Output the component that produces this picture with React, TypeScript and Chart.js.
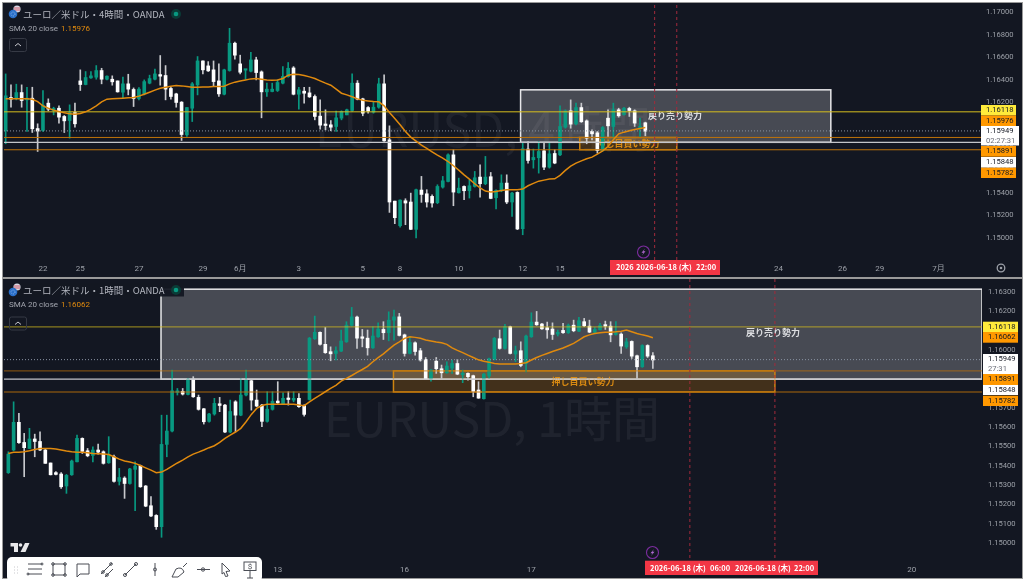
import React, { useEffect, useRef } from "react";
import { Chart, registerables } from "chart.js";

Chart.register(...registerables);

// ---------- 4 hour pane ----------
const opens4h = [1.15950,1.16245,1.16236,1.16289,1.16224,1.16239,1.15970,1.15953,1.16195,1.16130,1.16150,1.16077,1.16041,1.16112,1.16392,1.16360,1.16419,1.16425,1.16484,1.16407,1.16407,1.16392,1.16292,1.16366,1.16316,1.16236,1.16277,1.16372,1.16407,1.16448,1.16440,1.16325,1.16277,1.16204,1.15914,1.16150,1.16357,1.16569,1.16525,1.16490,1.16392,1.16274,1.16484,1.16726,1.16543,1.16487,1.16478,1.16578,1.16472,1.16295,1.16298,1.16307,1.16372,1.16431,1.16507,1.16274,1.16301,1.16286,1.16254,1.16080,1.16000,1.16003,1.15988,1.16062,1.16091,1.16130,1.16372,1.16233,1.16156,1.16115,1.16159,1.16366,1.15870,1.15327,1.15109,1.15330,1.15319,1.15077,1.15425,1.15392,1.15369,1.15313,1.15451,1.15501,1.15737,1.15401,1.15457,1.15419,1.15457,1.15540,1.15481,1.15543,1.15357,1.15419,1.15487,1.15319,1.15404,1.15083,1.15788,1.15693,1.15711,1.15773,1.15628,1.15749,1.15737,1.15982,1.16127,1.16012,1.16156,1.16038,1.15944,1.15932,1.15776,1.16062,1.15988,1.16136,1.16094,1.16148,1.16127,1.15976,1.16021];
const highs4h = [1.16454,1.16357,1.16363,1.16357,1.16336,1.16336,1.16012,1.16307,1.16233,1.16159,1.16171,1.16086,1.16180,1.16195,1.16490,1.16475,1.16475,1.16528,1.16504,1.16437,1.16437,1.16392,1.16425,1.16451,1.16330,1.16333,1.16401,1.16443,1.16496,1.16617,1.16528,1.16336,1.16283,1.16209,1.16156,1.16378,1.16608,1.16569,1.16563,1.16569,1.16543,1.16496,1.16858,1.16735,1.16620,1.16490,1.16646,1.16602,1.16481,1.16372,1.16372,1.16401,1.16519,1.16555,1.16519,1.16336,1.16336,1.16336,1.16268,1.16224,1.16136,1.16041,1.16124,1.16127,1.16142,1.16454,1.16395,1.16239,1.16165,1.16209,1.16416,1.16445,1.15994,1.15327,1.15339,1.15348,1.15398,1.15434,1.15546,1.15428,1.15383,1.15472,1.15546,1.15746,1.15782,1.15531,1.15463,1.15516,1.15590,1.15649,1.15723,1.15581,1.15428,1.15560,1.15560,1.15404,1.15410,1.15841,1.15855,1.15788,1.15855,1.15841,1.15841,1.15782,1.16171,1.16136,1.16224,1.16195,1.16195,1.16047,1.15959,1.15944,1.15988,1.16136,1.16195,1.16150,1.16159,1.16159,1.16136,1.16062,1.16027];
const lows4h = [1.15835,1.16159,1.16224,1.16159,1.15944,1.15935,1.15767,1.15944,1.16127,1.16091,1.16018,1.15935,1.15885,1.15982,1.16307,1.16357,1.16413,1.16407,1.16366,1.16401,1.16354,1.16292,1.16242,1.16268,1.16165,1.16224,1.16268,1.16366,1.16401,1.16354,1.16224,1.16230,1.16159,1.15864,1.15900,1.16032,1.16268,1.16454,1.16475,1.16348,1.16254,1.16268,1.16478,1.16584,1.16454,1.16407,1.16472,1.16401,1.16065,1.16254,1.16295,1.16298,1.16366,1.16425,1.16268,1.16142,1.16195,1.16245,1.16047,1.15965,1.15959,1.15950,1.15944,1.16047,1.16091,1.16121,1.16224,1.16083,1.16106,1.16106,1.16150,1.15855,1.15227,1.15127,1.15097,1.15118,1.15074,1.15000,1.15316,1.15274,1.15274,1.15304,1.15442,1.15496,1.15286,1.15398,1.15339,1.15354,1.15451,1.15363,1.15472,1.15348,1.15257,1.15410,1.15304,1.15192,1.15074,1.15029,1.15664,1.15619,1.15575,1.15605,1.15619,1.15658,1.15729,1.15973,1.15973,1.16003,1.16024,1.15835,1.15870,1.15752,1.15770,1.15900,1.15885,1.16071,1.16088,1.16077,1.15988,1.15900,1.15906];
const closes4h = [1.16260,1.16230,1.16289,1.16218,1.16239,1.15968,1.15947,1.16177,1.16142,1.16148,1.16071,1.16038,1.16112,1.16012,1.16360,1.16422,1.16437,1.16484,1.16407,1.16434,1.16384,1.16295,1.16366,1.16319,1.16236,1.16319,1.16386,1.16413,1.16454,1.16434,1.16319,1.16254,1.16201,1.15917,1.16156,1.16366,1.16569,1.16490,1.16481,1.16386,1.16277,1.16490,1.16726,1.16620,1.16469,1.16490,1.16578,1.16466,1.16295,1.16319,1.16319,1.16378,1.16431,1.16504,1.16274,1.16313,1.16283,1.16251,1.16077,1.16000,1.15997,1.15982,1.16065,1.16121,1.16136,1.16372,1.16230,1.16106,1.16124,1.16159,1.16366,1.15861,1.15319,1.15180,1.15336,1.15310,1.15077,1.15428,1.15386,1.15319,1.15310,1.15457,1.15507,1.15737,1.15407,1.15442,1.15419,1.15463,1.15534,1.15481,1.15540,1.15351,1.15422,1.15487,1.15319,1.15398,1.15080,1.15791,1.15687,1.15714,1.15767,1.15628,1.15746,1.15664,1.15988,1.16127,1.16009,1.16156,1.16030,1.15885,1.15923,1.15776,1.15979,1.15994,1.16136,1.16083,1.16150,1.16130,1.16018,1.15982,1.15947];
const sma4h = [1.16233,1.16233,1.16233,1.16233,1.16233,1.16230,1.16209,1.16171,1.16150,1.16133,1.16121,1.16109,1.16100,1.16097,1.16103,1.16118,1.16142,1.16171,1.16207,1.16230,1.16233,1.16236,1.16239,1.16242,1.16245,1.16257,1.16274,1.16292,1.16310,1.16327,1.16336,1.16345,1.16351,1.16348,1.16342,1.16336,1.16336,1.16339,1.16339,1.16342,1.16342,1.16345,1.16366,1.16381,1.16392,1.16401,1.16410,1.16413,1.16407,1.16401,1.16398,1.16401,1.16413,1.16443,1.16451,1.16448,1.16440,1.16428,1.16413,1.16392,1.16372,1.16354,1.16319,1.16283,1.16268,1.16251,1.16233,1.16221,1.16215,1.16209,1.16207,1.16171,1.16112,1.16059,1.16003,1.15944,1.15894,1.15858,1.15823,1.15794,1.15764,1.15735,1.15708,1.15678,1.15640,1.15602,1.15560,1.15522,1.15481,1.15445,1.15416,1.15407,1.15413,1.15422,1.15428,1.15428,1.15428,1.15434,1.15463,1.15484,1.15504,1.15513,1.15522,1.15525,1.15555,1.15599,1.15637,1.15664,1.15684,1.15702,1.15717,1.15743,1.15773,1.15811,1.15870,1.15923,1.15938,1.15950,1.15962,1.15971,1.15979];
const timeIdx4h = [7,14,25,37,44,55,67,74,85,97,104,145,157,164,175];
const timeLabels4h = ["22","25","27","29","6月","3","5","8","10","12","15","24","26","29","7月"];
const priceTicks4h = [1.15,1.152,1.154,1.156,1.158,1.16,1.162,1.164,1.166,1.168,1.17];
const eventIdx4h = [121.75,125.9];

// ---------- 1 hour pane ----------
const opens1h = [1.15365,1.15482,1.15625,1.15521,1.15490,1.15539,1.15526,1.15482,1.15415,1.15365,1.15358,1.15296,1.15354,1.15421,1.15542,1.15478,1.15454,1.15482,1.15473,1.15416,1.15447,1.15320,1.15337,1.15309,1.15382,1.15401,1.15296,1.15194,1.15144,1.15086,1.15511,1.15580,1.15780,1.15785,1.15769,1.15848,1.15754,1.15695,1.15630,1.15668,1.15721,1.15714,1.15575,1.15731,1.15662,1.15766,1.15840,1.15740,1.15714,1.15630,1.15692,1.15735,1.15719,1.15750,1.15740,1.15749,1.15712,1.15743,1.16057,1.16090,1.16028,1.15990,1.15981,1.15993,1.16041,1.16126,1.16169,1.16067,1.16060,1.16010,1.16067,1.16105,1.16088,1.16153,1.16170,1.16077,1.15981,1.16036,1.15995,1.15950,1.15847,1.15941,1.15902,1.15881,1.15905,1.15929,1.15871,1.15878,1.15866,1.15792,1.15747,1.15864,1.15950,1.16057,1.16007,1.16119,1.15978,1.15995,1.15929,1.16067,1.16143,1.16133,1.16114,1.16107,1.16081,1.16100,1.16088,1.16127,1.16096,1.16145,1.16122,1.16090,1.16103,1.16127,1.16122,1.16079,1.16081,1.16015,1.16043,1.15969,1.15912,1.16022,1.15969];
const highs1h = [1.15473,1.15731,1.15671,1.15568,1.15594,1.15564,1.15576,1.15490,1.15415,1.15370,1.15365,1.15356,1.15430,1.15559,1.15545,1.15490,1.15499,1.15513,1.15478,1.15551,1.15456,1.15387,1.15344,1.15387,1.15421,1.15404,1.15299,1.15241,1.15148,1.15662,1.15662,1.15895,1.15800,1.15800,1.15852,1.15861,1.15766,1.15697,1.15671,1.15749,1.15754,1.15718,1.15740,1.15737,1.15852,1.15895,1.15843,1.15792,1.15718,1.15783,1.15783,1.15835,1.15778,1.15783,1.15783,1.15774,1.15716,1.16064,1.16174,1.16093,1.16115,1.16015,1.16015,1.16102,1.16145,1.16219,1.16174,1.16105,1.16102,1.16119,1.16139,1.16145,1.16196,1.16205,1.16188,1.16081,1.16067,1.16041,1.16007,1.15960,1.15898,1.15960,1.15921,1.15938,1.15947,1.15950,1.15895,1.15881,1.15869,1.15835,1.15878,1.15957,1.16064,1.16102,1.16131,1.16122,1.16019,1.16041,1.16076,1.16191,1.16198,1.16136,1.16143,1.16139,1.16102,1.16136,1.16133,1.16153,1.16167,1.16162,1.16153,1.16115,1.16136,1.16148,1.16145,1.16145,1.16088,1.16059,1.16046,1.15972,1.16026,1.16026,1.15985];
const lows1h = [1.15361,1.15478,1.15516,1.15344,1.15490,1.15447,1.15478,1.15413,1.15353,1.15353,1.15284,1.15258,1.15351,1.15420,1.15464,1.15447,1.15421,1.15461,1.15409,1.15413,1.15316,1.15301,1.15232,1.15306,1.15168,1.15289,1.15189,1.15137,1.15072,1.15031,1.15447,1.15576,1.15766,1.15766,1.15766,1.15754,1.15688,1.15616,1.15626,1.15662,1.15680,1.15571,1.15571,1.15576,1.15659,1.15762,1.15688,1.15706,1.15602,1.15626,1.15688,1.15723,1.15719,1.15714,1.15731,1.15702,1.15657,1.15740,1.16053,1.16024,1.15981,1.15943,1.15947,1.15990,1.16038,1.16122,1.16007,1.16015,1.15972,1.16007,1.16064,1.16053,1.16046,1.16050,1.16071,1.15967,1.15978,1.15972,1.15941,1.15847,1.15838,1.15878,1.15852,1.15878,1.15878,1.15871,1.15830,1.15843,1.15757,1.15749,1.15745,1.15852,1.15947,1.16003,1.16003,1.15978,1.15938,1.15912,1.15886,1.16064,1.16126,1.16105,1.16059,1.16053,1.16071,1.16084,1.16084,1.16093,1.16093,1.16119,1.16088,1.16084,1.16102,1.16105,1.16041,1.16076,1.15981,1.16007,1.15955,1.15852,1.15909,1.15960,1.15904];
const closes1h = [1.15461,1.15625,1.15520,1.15494,1.15539,1.15526,1.15482,1.15413,1.15354,1.15356,1.15292,1.15351,1.15425,1.15542,1.15475,1.15452,1.15482,1.15471,1.15413,1.15456,1.15320,1.15340,1.15309,1.15384,1.15399,1.15292,1.15192,1.15141,1.15086,1.15511,1.15580,1.15788,1.15783,1.15771,1.15848,1.15757,1.15692,1.15628,1.15668,1.15723,1.15712,1.15575,1.15681,1.15662,1.15766,1.15843,1.15740,1.15709,1.15630,1.15693,1.15733,1.15726,1.15749,1.15743,1.15749,1.15706,1.15666,1.16060,1.16090,1.16028,1.15985,1.15979,1.15995,1.16045,1.16127,1.16170,1.16060,1.16059,1.16010,1.16071,1.16107,1.16088,1.16153,1.16170,1.16074,1.15981,1.16038,1.15991,1.15947,1.15850,1.15895,1.15902,1.15881,1.15916,1.15929,1.15874,1.15874,1.15861,1.15785,1.15750,1.15874,1.15954,1.16059,1.16007,1.16119,1.15981,1.15995,1.15919,1.16071,1.16143,1.16129,1.16108,1.16103,1.16079,1.16090,1.16088,1.16127,1.16098,1.16150,1.16124,1.16091,1.16105,1.16126,1.16122,1.16077,1.16084,1.16019,1.16041,1.15967,1.15912,1.16022,1.15967,1.15947];
const sma1h = [1.15464,1.15470,1.15471,1.15473,1.15478,1.15485,1.15490,1.15490,1.15490,1.15487,1.15482,1.15477,1.15473,1.15471,1.15470,1.15468,1.15464,1.15463,1.15461,1.15459,1.15447,1.15435,1.15425,1.15420,1.15413,1.15402,1.15390,1.15378,1.15365,1.15368,1.15382,1.15399,1.15415,1.15430,1.15447,1.15461,1.15471,1.15482,1.15494,1.15504,1.15521,1.15542,1.15559,1.15575,1.15594,1.15628,1.15666,1.15697,1.15712,1.15718,1.15719,1.15719,1.15719,1.15719,1.15718,1.15714,1.15711,1.15731,1.15749,1.15766,1.15783,1.15800,1.15816,1.15838,1.15852,1.15867,1.15883,1.15898,1.15914,1.15938,1.15959,1.15979,1.16002,1.16024,1.16041,1.16059,1.16067,1.16064,1.16059,1.16050,1.16045,1.16040,1.16036,1.16028,1.16010,1.15997,1.15985,1.15972,1.15960,1.15948,1.15941,1.15936,1.15929,1.15926,1.15926,1.15926,1.15926,1.15929,1.15933,1.15947,1.15960,1.15971,1.15981,1.15991,1.16000,1.16009,1.16021,1.16033,1.16050,1.16067,1.16077,1.16084,1.16088,1.16091,1.16091,1.16093,1.16096,1.16102,1.16093,1.16084,1.16077,1.16071,1.16062];
const timeIdx1h = [51,75,99,171];
const timeLabels1h = ["13","16","17","20"];
const priceTicks1h = [1.15,1.151,1.152,1.153,1.154,1.155,1.156,1.157,1.158,1.159,1.16,1.161,1.162,1.163];
const eventIdx1h = [129,145.1];

// ---------- shared levels ----------
const levelYellow = 1.16118;
const levelOrangeUpper = 1.15891;
const levelWhite = 1.15848;
const levelOrangeLower = 1.15782;
const lastPrice = 1.15949;
const sellZoneTop = 1.16313;
const sellTextLevel = 1.16088;
const sma4hLast = 1.15976;
const sma1hLast = 1.16062;

const BG = "#131722";
const GREEN = "#089981";
const WHITE = "#ffffff";
const AXIS = "#9ca0a8";
const ORANGE = "#ff9800";
const YELLOW = "#ffeb3b";
const UI_FONT = 'Roboto, "Noto Sans CJK JP", sans-serif';
const JP_FONT = '"Noto Sans CJK JP", Roboto, sans-serif';

type Tag = { top: number; h: number; w: number; bg: string; lines: string[] };
type PaneCfg = {
  title: string; smaLast: number; watermark: string; wmCx: number; wmCy: number; wmSize: number;
  o: number[]; h: number[]; l: number[]; c: number[]; sma: number[];
  timeIdx: number[]; timeLabels: string[]; priceTicks: number[]; eventIdx: number[];
  canvasTop: number; canvasH: number; areaTop: number; areaBottomPad: number;
  xMin: number; xMax: number; yMin: number; yMax: number;
  sellBox: [number, number]; buyBox: [number, number]; sellTextX: number; buyTextX: number;
  lineAlpha: number; lineW: number; titleY: number; smaY: number; titleBg: boolean;
  tagLeft: number; tags: Tag[]; red: { x0: number; x1: number; y0: number; y1: number; items: [string, number][] };
  tickPad: number; yTickPad: number; barW: number;
};

const drawText = (ctx: CanvasRenderingContext2D, s: string, x: number, y: number, color: string, font: string, align: CanvasTextAlign = "left") => {
  ctx.fillStyle = color; ctx.font = font; ctx.textAlign = align; ctx.textBaseline = "middle"; ctx.fillText(s, x, y);
};

const makePlugin = (cfg: PaneCfg) => ({
  id: "paneOverlay",
  beforeDatasetsDraw(chart: any) {
    const { ctx, scales: { x, y }, chartArea: a } = chart;
    ctx.save();
    ctx.beginPath(); ctx.rect(a.left, a.top, a.right - a.left, a.bottom - a.top); ctx.clip();
    drawText(ctx, cfg.watermark, cfg.wmCx, cfg.wmCy, "rgba(255,255,255,0.055)", `${cfg.wmSize}px ${JP_FONT}`, "center");
    const sx0 = x.getPixelForValue(cfg.sellBox[0]); const sx1 = x.getPixelForValue(cfg.sellBox[1]);
    const sy0 = y.getPixelForValue(sellZoneTop); const sy1 = y.getPixelForValue(levelWhite);
    ctx.fillStyle = "rgba(255,255,255,0.225)"; ctx.fillRect(sx0, sy0, sx1 - sx0, sy1 - sy0);
    ctx.strokeStyle = "#e8e8ea"; ctx.lineWidth = 1.5; ctx.strokeRect(sx0, sy0, sx1 - sx0, sy1 - sy0);
    drawText(ctx, "戻り売り勢力", cfg.sellTextX, y.getPixelForValue(sellTextLevel), "#dcdde0", `bold 9px ${JP_FONT}`, "center");
    const bx0 = x.getPixelForValue(cfg.buyBox[0]); const bx1 = x.getPixelForValue(cfg.buyBox[1]);
    const by0 = y.getPixelForValue(levelOrangeUpper); const by1 = y.getPixelForValue(levelOrangeLower);
    ctx.fillStyle = "rgba(255,152,0,0.2)"; ctx.fillRect(bx0, by0, bx1 - bx0, by1 - by0);
    ctx.strokeStyle = "#cf8410"; ctx.lineWidth = 1.5; ctx.strokeRect(bx0, by0, bx1 - bx0, by1 - by0);
    drawText(ctx, "押し目買い勢力", cfg.buyTextX, (by0 + by1) / 2, "#d98a12", `bold 9px ${JP_FONT}`, "center");
    ctx.restore();
  },
  afterDraw(chart: any) {
    const { ctx } = chart;
    ctx.save();
    if (cfg.titleBg) { ctx.fillStyle = "rgba(19,23,34,0.95)"; ctx.fillRect(5, cfg.titleY - 7, 179, 13); }
    drawText(ctx, cfg.title, 23, cfg.titleY, "#b2b5be", `9.5px ${JP_FONT}`);
    drawText(ctx, "SMA 20 close", 9, cfg.smaY, "#a3a6af", `8px ${UI_FONT}`);
    drawText(ctx, cfg.smaLast.toFixed(5), 61, cfg.smaY, "#e08a0e", `8px ${UI_FONT}`);
    for (const t of cfg.tags) {
      ctx.fillStyle = t.bg; ctx.fillRect(cfg.tagLeft, t.top, t.w, t.h);
      t.lines.forEach((s, i) => {
        const ly = t.top + (t.h / t.lines.length) * (i + 0.5);
        drawText(ctx, s, cfg.tagLeft + 5, ly, i === 0 ? BG : "#6a6d78", `7.6px ${UI_FONT}`);
      });
    }
    const r = cfg.red;
    ctx.fillStyle = "#f23645"; ctx.fillRect(r.x0, r.y0, r.x1 - r.x0, r.y1 - r.y0);
    r.items.forEach(([s, px]) => drawText(ctx, s, px, (r.y0 + r.y1) / 2, "#ffffff", `bold 7.5px ${JP_FONT}`));
    ctx.restore();
  },
});

function Pane({ cfg }: { cfg: PaneCfg }) {
  const ref = useRef<HTMLCanvasElement | null>(null);
  useEffect(() => {
    if (!ref.current) return;
    const n = cfg.o.length;
    const idx = Array.from({ length: n }, (_, i) => i);
    const colors = idx.map((i) => (cfg.c[i] >= cfg.o[i] ? GREEN : WHITE));
    const wickColors = idx.map((i) => (cfg.c[i] >= cfg.o[i] ? GREEN : "#c8c9cd"));
    const hline = (v: number, color: string, w: number, order: number, dash: number[] = []) => ({
      type: "line", data: [{ x: cfg.xMin, y: v }, { x: cfg.xMax, y: v }], borderColor: color, borderWidth: w,
      borderDash: dash, pointRadius: 0, order,
    });
    const vline = (v: number) => ({
      type: "line", data: [{ x: v, y: cfg.yMin }, { x: v, y: cfg.yMax }], borderColor: "#a32a3c", borderWidth: 1,
      borderDash: [3, 3], pointRadius: 0, order: 1,
    });
    const a = cfg.lineAlpha;
    const chart = new Chart(ref.current, {
      type: "bar",
      data: {
        datasets: [
          { label: "wick", data: idx.map((i) => ({ x: i, y: [cfg.l[i], cfg.h[i]] })), backgroundColor: wickColors, barThickness: 1, grouped: false, order: 6 },
          { label: "body", data: idx.map((i) => ({ x: i, y: [Math.min(cfg.o[i], cfg.c[i]), Math.max(cfg.o[i], cfg.c[i])] })), backgroundColor: colors, barThickness: cfg.barW, minBarLength: 1.5, grouped: false, order: 5 },
          hline(lastPrice, "#8a93a3", 1, 4, [1, 2]),
          hline(levelYellow, `rgba(214,190,30,${a})`, cfg.lineW, 3),
          hline(levelOrangeUpper, `rgba(190,115,10,${a})`, cfg.lineW, 3),
          hline(levelOrangeLower, `rgba(190,115,10,${a})`, cfg.lineW, 3),
          hline(levelWhite, "#c4c5ca", 1.2, 3),
          { type: "line", label: "SMA 20", data: idx.map((i) => ({ x: i, y: cfg.sma[i] })), borderColor: "#e08a0e", borderWidth: 1.5, pointRadius: 0, tension: 0, order: 2 },
          ...cfg.eventIdx.map(vline),
        ] as any,
      },
      options: {
        animation: false, responsive: false, events: [],
        layout: { padding: { left: 4, top: cfg.areaTop, right: 0, bottom: 0 } },
        plugins: { legend: { display: false }, tooltip: { enabled: false } },
        scales: {
          x: {
            type: "linear", min: cfg.xMin, max: cfg.xMax, offset: false,
            grid: { display: false, drawTicks: false, tickLength: 0 }, border: { display: false },
            afterBuildTicks: (s: any) => { s.ticks = cfg.timeIdx.map((v) => ({ value: v })); },
            afterFit: (s: any) => { s.height = cfg.areaBottomPad; s.paddingLeft = 0; s.paddingRight = 0; },
            ticks: {
              autoSkip: false, maxRotation: 0, minRotation: 0, padding: cfg.tickPad, color: AXIS, font: { size: 8, family: UI_FONT },
              callback: (v: any) => { const k = cfg.timeIdx.indexOf(v); return k >= 0 ? cfg.timeLabels[k] : ""; },
            },
          },
          y: {
            type: "linear", position: "right", min: cfg.yMin, max: cfg.yMax,
            grid: { display: false, drawTicks: false, tickLength: 0 }, border: { display: false },
            afterBuildTicks: (s: any) => { s.ticks = cfg.priceTicks.map((v) => ({ value: v })); },
            afterFit: (s: any) => { s.width = 42; s.paddingTop = 0; s.paddingBottom = 0; },
            ticks: {
              padding: cfg.yTickPad, color: AXIS, font: { size: 7.6, family: UI_FONT },
              callback: (v: any) => Number(v).toFixed(5),
            },
          },
        },
      } as any,
      plugins: [makePlugin(cfg)] as any,
    });
    return () => chart.destroy();
  }, [cfg]);
  return (
    <canvas ref={ref} width={1024} height={cfg.canvasH}
      style={{ position: "absolute", left: 0, top: cfg.canvasTop, width: 1024, height: cfg.canvasH, display: "block", filter: "blur(0.3px)" }} />
  );
}

const pane4h: PaneCfg = {
  title: "ユーロ／米ドル・4時間・OANDA", smaLast: sma4hLast, watermark: "EURUSD, 4時間", wmCx: 483, wmCy: 129, wmSize: 48,
  o: opens4h, h: highs4h, l: lows4h, c: closes4h, sma: sma4h,
  timeIdx: timeIdx4h, timeLabels: timeLabels4h, priceTicks: priceTicks4h, eventIdx: eventIdx4h,
  canvasTop: 0, canvasH: 278, areaTop: 3, areaBottomPad: 18,
  xMin: -0.31, xMax: 183.16, yMin: 1.148053, yMax: 1.170823,
  sellBox: [96.6, 154.8], buyBox: [107.7, 125.9], sellTextX: 675, buyTextX: 628,
  lineAlpha: 1, lineW: 1, titleY: 14, smaY: 29, titleBg: false, tagLeft: 981,
  tags: [
    { top: 105, h: 10.5, w: 35, bg: YELLOW, lines: [levelYellow.toFixed(5)] },
    { top: 115.5, h: 10.5, w: 35, bg: ORANGE, lines: [sma4hLast.toFixed(5)] },
    { top: 126, h: 19.5, w: 38, bg: WHITE, lines: [lastPrice.toFixed(5), "02:27:31"] },
    { top: 146, h: 10.7, w: 35, bg: ORANGE, lines: [levelOrangeUpper.toFixed(5)] },
    { top: 157, h: 10.7, w: 35, bg: WHITE, lines: [levelWhite.toFixed(5)] },
    { top: 167.7, h: 10.3, w: 35, bg: ORANGE, lines: [levelOrangeLower.toFixed(5)] },
  ],
  red: { x0: 610, x1: 720, y0: 260, y1: 275, items: [["2026", 616], ["2026-06-18 (木)", 636], ["22:00", 696]] },
  tickPad: 4, yTickPad: 4, barW: 3,
};

const pane1h: PaneCfg = {
  title: "ユーロ／米ドル・1時間・OANDA", smaLast: sma1hLast, watermark: "EURUSD, 1時間", wmCx: 492, wmCy: 141, wmSize: 48,
  o: opens1h, h: highs1h, l: lows1h, c: closes1h, sma: sma1h,
  timeIdx: timeIdx1h, timeLabels: timeLabels1h, priceTicks: priceTicks1h, eventIdx: eventIdx1h,
  canvasTop: 278, canvasH: 304, areaTop: 1, areaBottomPad: 24,
  xMin: -0.82, xMax: 184.3, yMin: 1.14924, yMax: 1.163656,
  sellBox: [28.9, 184.3], buyBox: [72.9, 145.1], sellTextX: 773, buyTextX: 583,
  lineAlpha: 0.6, lineW: 1.4, titleY: 12.5, smaY: 27, titleBg: true, tagLeft: 983,
  tags: [
    { top: 43.7, h: 10.3, w: 35, bg: YELLOW, lines: [levelYellow.toFixed(5)] },
    { top: 54, h: 10.7, w: 35, bg: ORANGE, lines: [sma1hLast.toFixed(5)] },
    { top: 76, h: 20, w: 35, bg: WHITE, lines: [lastPrice.toFixed(5), "27:31"] },
    { top: 96, h: 11, w: 35, bg: ORANGE, lines: [levelOrangeUpper.toFixed(5)] },
    { top: 107, h: 10, w: 35, bg: WHITE, lines: [levelWhite.toFixed(5)] },
    { top: 117.7, h: 10.3, w: 35, bg: ORANGE, lines: [levelOrangeLower.toFixed(5)] },
  ],
  red: { x0: 645, x1: 818, y0: 282.7, y1: 297, items: [["2026-06-18 (木)", 650], ["06:00", 710], ["2026-06-18 (木)", 735], ["22:00", 794]] },
  tickPad: 7, yTickPad: 6, barW: 3,
};

const ICON = "#4a4d55";
function Overlay() {
  const chevron = (y: number) => (
    <g key={y}>
      <rect x={9.5} y={y} width={17} height={13} rx={2} fill="none" stroke="#363a45" />
      <path d={`M15 ${y + 7.5} l3 -2.5 l3 2.5`} fill="none" stroke="#c8c9cf" strokeWidth={1} />
    </g>
  );
  const flags = (y: number) => (
    <g key={y}>
      <circle cx={17} cy={y - 5} r={3.6} fill="#d8d8e4" />
      <path d={`M14 ${y - 6} h6 M14 ${y - 4} h6`} stroke="#d0404c" strokeWidth={0.8} />
      <circle cx={13} cy={y} r={4.3} fill="#2a6fc9" />
      <circle cx={13} cy={y} r={2} fill="none" stroke="#9fc4ef" strokeDasharray="1 1" strokeWidth={0.8} />
    </g>
  );
  const dot = (y: number) => (
    <g key={y}>
      <circle cx={176} cy={y} r={5} fill="#0b3b36" />
      <circle cx={176} cy={y} r={2.3} fill="#089981" />
    </g>
  );
  const bolt = (x: number, y: number) => (
    <g key={x}>
      <circle cx={x} cy={y} r={6} fill="none" stroke="#7b2d9e" strokeWidth={1.1} />
      <path d={`M${x + 1.5} ${y - 3.5} L${x - 2} ${y + 0.7} H${x} L${x - 1.5} ${y + 3.5} L${x + 2} ${y - 0.7} H${x} Z`} fill="#b06ad0" />
    </g>
  );
  return (
    <svg width={1024} height={582} style={{ position: "absolute", left: 0, top: 0, pointerEvents: "none" }}>
      {flags(14)}{flags(292)}
      {dot(14)}{dot(290)}
      {chevron(38.5)}{chevron(317)}
      {bolt(643.5, 252)}{bolt(652.5, 552.5)}
      <circle cx={1001} cy={268} r={3.8} fill="none" stroke={AXIS} strokeWidth={1.3} />
      <circle cx={1001} cy={268} r={1.3} fill={AXIS} />
      <path d="M10.5 543 H18 V552 H14 V546.5 H10.5 Z" fill="#e8e8ea" />
      <circle cx={20.5} cy={545} r={1.8} fill="#e8e8ea" />
      <path d="M25 543 H29.5 L25.5 552 H20.5 Z" fill="#e8e8ea" />
      <rect x={7} y={557} width={255} height={25} rx={5} fill="#ffffff" />
      <g fill="none" stroke={ICON} strokeWidth={1}>
        <path d="M14 567 h1 M17 567 h1 M14 570 h1 M17 570 h1 M14 573 h1 M17 573 h1" stroke="#c8c8cc" />
        <path d="M28 564 h14 M28 569 h14 M28 574 h14" />
        <circle cx={42} cy={564} r={1} /><circle cx={28} cy={574} r={1} />
        <rect x={53} y={564} width={12} height={11} />
        <circle cx={53} cy={564} r={1.3} /><circle cx={65} cy={564} r={1.3} /><circle cx={53} cy={575} r={1.3} /><circle cx={65} cy={575} r={1.3} />
        <path d="M77 564 H89 V574 H80 L77 577 Z" />
        <path d="M101 574 L112 563 M105 577 L113 569" />
        <circle cx={103} cy={572} r={1.3} /><circle cx={111} cy={564} r={1.3} /><circle cx={107} cy={575} r={1.3} />
        <path d="M125 575 L136 564" /><circle cx={125} cy={575} r={1.5} /><circle cx={136} cy={564} r={1.5} />
        <path d="M155 563 V576" /><circle cx={155} cy={569.5} r={1.5} />
        <path d="M172 577 L176 569 Q182 566 184 572 L178 577 Z M183 567 L187 563" />
        <path d="M197 569.5 H210" /><circle cx={203} cy={569.5} r={1.7} />
        <path d="M222 563 L230 571 L226 571.5 L228 576 L225.5 576.5 L224 572.5 L222 574 Z" />
        <rect x={244} y={562} width={12} height={8.5} /><path d="M250 570.5 V578 M247 578 H253" />
      </g>
      <text x={250} y={569} fontSize={8} textAnchor="middle" fill={ICON} fontFamily={UI_FONT}>$</text>
    </svg>
  );
}

export default function App() {
  return (
    <div style={{ position: "fixed", left: 0, top: 0, width: 1024, height: 582, background: "#ffffff", overflow: "hidden" }}>
      <div style={{ position: "absolute", left: 3, top: 3, width: 1019, height: 274, background: BG, boxShadow: "0 0 0 1px #9a9a9a" }} />
      <div style={{ position: "absolute", left: 3, top: 279, width: 1019, height: 299, background: BG, boxShadow: "0 0 0 1px #9a9a9a" }} />
      <Pane cfg={pane4h} />
      <Pane cfg={pane1h} />
      <Overlay />
    </div>
  );
}
